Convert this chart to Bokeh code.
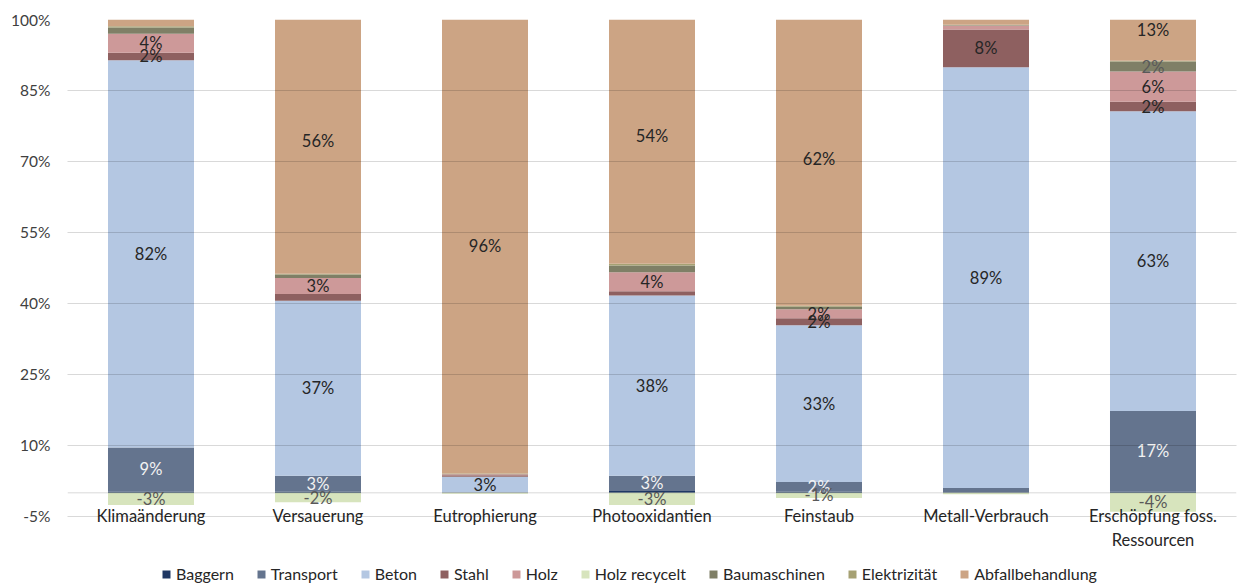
import numpy as np
from bokeh.plotting import figure
from bokeh.models import (ColumnDataSource, FactorRange, Range1d, Legend, LegendItem,
                          Span, FixedTicker, PrintfTickFormatter)
from bokeh.core.properties import value
from bokeh.embed import file_html
from bokeh.resources import INLINE

# Impact categories (x axis)
categories = ["Klimaänderung", "Versauerung", "Eutrophierung", "Photooxidantien",
              "Feinstaub", "Metall-Verbrauch", "Erschöpfung foss.\nRessourcen"]

# Share of each process in every impact category, in percent (stacking order bottom-up)
baggern         = [0.3, 0.2, 0.0, 0.4, 0.2, 0.1, 0.3]
transport       = [9.3, 3.4, 0.1, 3.2, 2.1, 0.9, 17.0]
beton           = [81.8, 37.0, 3.3, 38.1, 33.1, 88.9, 63.3]
stahl           = [1.6, 1.4, 0.3, 0.9, 1.5, 8.0, 2.0]
holz            = [4.0, 3.4, 0.2, 4.0, 1.9, 0.8, 6.4]
holz_recycelt   = [-2.6, -2.0, -0.2, -2.6, -1.1, -0.3, -4.0]
baumaschinen    = [1.3, 0.7, 0.1, 1.4, 0.5, 0.1, 2.1]
elektrizitaet   = [0.3, 0.2, 0.1, 0.4, 0.2, 0.1, 0.2]
abfall          = [4.0, 56.0, 96.0, 54.0, 62.0, 1.2, 13.0]

series_names = ["Baggern", "Transport", "Beton", "Stahl", "Holz", "Holz recycelt",
                "Baumaschinen", "Elektrizität", "Abfallbehandlung"]
series_values = [baggern, transport, beton, stahl, holz, holz_recycelt,
                 baumaschinen, elektrizitaet, abfall]
series_colors = ["#1f3864", "#64748e", "#b4c7e2", "#8e6060", "#cd9999", "#d7e4bd",
                 "#7f7f66", "#a6a173", "#cca484"]
label_colors = ["#f2f2f2", "#f2f2f2", "#262626", "#262626", "#262626", "#595959",
                "#595959", "#262626", "#262626"]

y_ticks = [-5, 10, 25, 40, 55, 70, 85, 100]

FONT = "Lato"

# The frame reaches down to the bottom edge; the lower part holds names and legend
p = figure(x_range=FactorRange(factors=categories, range_padding=0),
           y_range=Range1d(-19.16, 100),
           width=1237, height=583, output_backend="svg", toolbar_location=None,
           min_border_left=67, min_border_right=1, min_border_top=19, min_border_bottom=0)

p.outline_line_color = None
p.xaxis.visible = False
p.xgrid.visible = False

p.yaxis.ticker = FixedTicker(ticks=y_ticks)
p.yaxis.formatter = PrintfTickFormatter(format="%d%%")
p.yaxis.axis_line_color = None
p.yaxis.major_tick_line_color = None
p.yaxis.minor_tick_line_color = None
p.yaxis.major_tick_out = 0
p.yaxis.major_tick_in = 0
p.yaxis.major_label_standoff = 17
p.yaxis.major_label_text_font = FONT
p.yaxis.major_label_text_font_size = "15.5px"
p.yaxis.major_label_text_color = "#404040"

p.ygrid.ticker = FixedTicker(ticks=y_ticks)
p.ygrid.grid_line_color = "black"
p.ygrid.grid_line_alpha = 0.15
p.ygrid.level = "annotation"

p.add_layout(Span(location=0, dimension="width", line_color="black",
                  line_alpha=0.15, line_width=1, level="annotation"))

pos_base = np.zeros(len(categories))
neg_base = np.zeros(len(categories))
legend_items = []
lab_x, lab_y, lab_t, lab_c = [], [], [], []

for name, vals, col, lcol in zip(series_names, series_values, series_colors, label_colors):
    v = np.array(vals, dtype=float)
    bottom = np.where(v >= 0, pos_base, neg_base + v)
    top = np.where(v >= 0, pos_base + v, neg_base)
    pos_base = np.where(v >= 0, pos_base + v, pos_base)
    neg_base = np.where(v < 0, neg_base + v, neg_base)
    src = ColumnDataSource(dict(x=categories, bottom=bottom, top=np.minimum(top, 100)))
    r = p.vbar(x="x", bottom="bottom", top="top", width=0.515, source=src,
               fill_color=col, line_color=None)
    legend_items.append(LegendItem(label=name, renderers=[r]))
    for c, val, b, t in zip(categories, v, bottom, top):
        rounded = int(np.floor(abs(val) + 0.5))
        center = (b + t) / 2
        shown = rounded >= 2 if val >= 0 else rounded >= 1
        if shown and center < 100:
            lab_x.append(c)
            lab_y.append(center)
            lab_t.append(f"{'-' if val < 0 else ''}{rounded}%")
            lab_c.append(lcol)

p.text(x="x", y="y", text="t", text_color="c",
       source=ColumnDataSource(dict(x=lab_x, y=lab_y, t=lab_t, c=lab_c)),
       text_align="center", text_baseline="middle",
       text_font=value(FONT), text_font_size="16.5px")

# Category names under the bars
p.text(x=categories, y=[-2.7] * len(categories), text=categories,
       text_align="center", text_baseline="top", text_line_height=1.2,
       text_font=value(FONT), text_font_size="16.5px", text_color="#262626")

legend = Legend(items=legend_items, orientation="horizontal", location=(94, 0),
                glyph_width=10, glyph_height=10, label_standoff=5, spacing=22,
                padding=0, margin=0, border_line_alpha=0, background_fill_alpha=0,
                label_text_font=FONT, label_text_font_size="16px",
                label_text_color="#262626")
p.add_layout(legend)

open("out.html", "w").write(file_html(p, INLINE))
